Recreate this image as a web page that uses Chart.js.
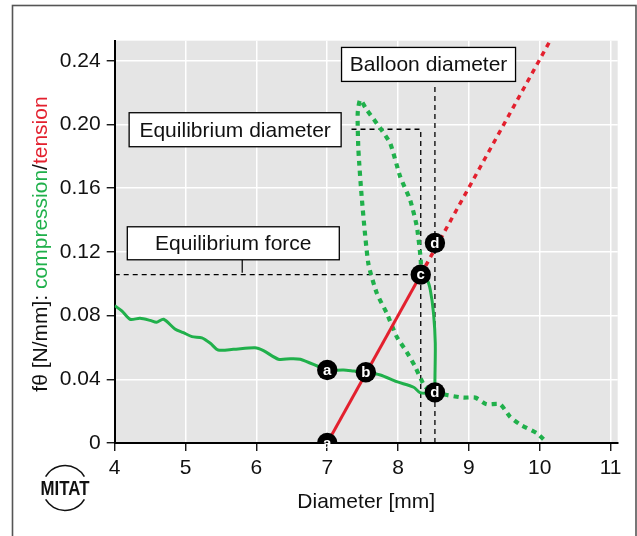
<!DOCTYPE html>
<html>
<head>
<meta charset="utf-8">
<script src="https://cdn.jsdelivr.net/npm/chart.js@4.4.1/dist/chart.umd.min.js"></script>
<style>
html,body{margin:0;padding:0;background:#fff;}
canvas{display:block;}
</style>
</head>
<body>
<canvas id="c" width="637" height="536"></canvas>
<script>
// ---- data ----
const xTicks = [4, 5, 6, 7, 8, 9, 10, 11];
const xTickLabels = ['4', '5', '6', '7', '8', '9', '10', '11'];
const yTicks = [0, 0.04, 0.08, 0.12, 0.16, 0.20, 0.24];
const yTickLabels = ['0', '0.04', '0.08', '0.12', '0.16', '0.20', '0.24'];

// solid green (measured compression force)
const greenSolidX = [4.00,4.10,4.216,4.357,4.50,4.59,4.69,4.85,4.97,5.09,5.23,5.35,5.46,5.675,5.98,6.10,6.31,6.48,6.62,6.90,7.00,7.23,7.37,7.545,7.75,7.98,8.22,8.31,8.41,8.52,8.52,8.525,8.50,8.455,8.41,8.32];
const greenSolidY = [0.0862,0.0830,0.0777,0.0783,0.0770,0.0758,0.0777,0.0716,0.0693,0.0668,0.0660,0.0626,0.0584,0.0588,0.0598,0.0580,0.0526,0.0529,0.0526,0.0475,0.0458,0.0458,0.0452,0.0444,0.0427,0.0385,0.0350,0.0316,0.0312,0.0318,0.0385,0.0626,0.0815,0.0961,0.1024,0.1057];
// dotted green
const greenDotX = [8.32,8.32,8.265,8.17,8.03,7.89,7.75,7.56,7.465,7.43,7.44,7.49,7.58,7.70,7.84,7.98,8.12,8.24,8.38,8.52,8.69,8.92,9.09,9.25,9.44,9.58,9.72,9.96,10.10];
const greenDotY = [0.1057,0.1149,0.1358,0.1526,0.1672,0.188,0.1976,0.209,0.2154,0.207,0.184,0.1526,0.1128,0.094,0.0815,0.0668,0.0573,0.048,0.0354,0.0318,0.0301,0.0285,0.0285,0.0243,0.0243,0.0165,0.0117,0.0061,0.0002];
// red (tension)
const redSolidX = [7.00, 8.32];
const redSolidY = [0.0, 0.1057];
const redDotX = [8.32, 10.146];
const redDotY = [0.1057, 0.2526];

// reference values
const eqForce = 0.1057;
const eqDiameter = 8.32;
const eqDiameterTop = 0.197;
const eqDiameterLeft = 7.30;
const balloonDiameter = 8.52;
const balloonTop = 0.2242;

// labelled markers
const markerX = [7.00, 7.00, 7.545, 8.32, 8.52, 8.52];
const markerY = [0.0, 0.0458, 0.0444, 0.1057, 0.1256, 0.0318];
const markerLabels = ['a', 'a', 'b', 'c', 'd', 'd'];

// annotation boxes (centre in data coords)
const boxTexts = ['Balloon diameter', 'Equilibrium diameter', 'Equilibrium force'];
const boxCx = [8.43, 5.70, 5.674];
const boxCy = [0.2377, 0.1967, 0.1254];
const boxW = [174, 212, 212];
const boxH = [34, 34, 33];

const GREEN = '#20b04b';
const RED = '#e3202e';
const FONT = '"Liberation Sans", Arial, Helvetica, sans-serif';

const zip = (xs, ys) => xs.map((x, i) => ({x, y: ys[i]}));

const bgPlugin = {
  id: 'bg',
  beforeDraw(chart) {
    const ctx = chart.ctx, a = chart.chartArea;
    ctx.save();
    ctx.fillStyle = '#fff';
    ctx.fillRect(0, 0, chart.width, chart.height);
    ctx.fillStyle = '#e5e5e5';
    ctx.fillRect(a.left, a.top, a.right - a.left, a.bottom - a.top);
    ctx.strokeStyle = '#555';
    ctx.lineWidth = 1.6;
    ctx.strokeRect(12.5, 5.5, 623.5, 600);
    ctx.restore();
  }
};

const overlayPlugin = {
  id: 'overlay',
  afterDatasetsDraw(chart) {
    const ctx = chart.ctx, xs = chart.scales.x, ys = chart.scales.y;
    ctx.save();
    // marker letters
    const meta = chart.getDatasetMeta(0);
    ctx.fillStyle = '#fff';
    ctx.font = 'bold 15px ' + FONT;
    ctx.textAlign = 'center';
    ctx.textBaseline = 'middle';
    meta.data.forEach((p, i) => {
      ctx.fillText(markerLabels[i], p.x, p.y + 0.5);
    });
    // connector tick from equilibrium force box to dashed line
    ctx.strokeStyle = '#000';
    ctx.lineWidth = 1.2;
    ctx.beginPath();
    const tx = xs.getPixelForValue(5.80);
    ctx.moveTo(tx, ys.getPixelForValue(boxCy[2]) + boxH[2] / 2);
    ctx.lineTo(tx, ys.getPixelForValue(eqForce) - 2);
    ctx.stroke();
    // boxes
    ctx.font = '21px ' + FONT;
    for (let i = 0; i < boxTexts.length; i++) {
      const cx = xs.getPixelForValue(boxCx[i]);
      const cy = ys.getPixelForValue(boxCy[i]);
      ctx.fillStyle = '#fff';
      ctx.fillRect(cx - boxW[i] / 2, cy - boxH[i] / 2, boxW[i], boxH[i]);
      ctx.strokeStyle = '#000';
      ctx.lineWidth = 1.3;
      ctx.strokeRect(cx - boxW[i] / 2, cy - boxH[i] / 2, boxW[i], boxH[i]);
      ctx.fillStyle = '#111';
      ctx.fillText(boxTexts[i], cx, cy + 1);
    }
    ctx.restore();
  },
  afterDraw(chart) {
    const ctx = chart.ctx, a = chart.chartArea;
    ctx.save();
    // x title
    ctx.font = '21px ' + FONT;
    ctx.fillStyle = '#111';
    ctx.textAlign = 'center';
    ctx.textBaseline = 'alphabetic';
    ctx.fillText('Diameter [mm]', (a.left + a.right) / 2, 508);
    // y title (multicolour)
    const parts = [['fθ [N/mm]: ', '#111'], ['compression', GREEN], ['/', '#111'], ['tension', RED]];
    const total = parts.reduce((s, p) => s + ctx.measureText(p[0]).width, 0);
    ctx.translate(47, 244);
    ctx.rotate(-Math.PI / 2);
    ctx.textAlign = 'left';
    let x = -total / 2;
    parts.forEach(p => {
      ctx.fillStyle = p[1];
      ctx.fillText(p[0], x, 0);
      x += ctx.measureText(p[0]).width;
    });
    ctx.restore();
    // MITAT logo
    ctx.save();
    ctx.strokeStyle = '#111';
    ctx.lineWidth = 1.6;
    const lx = 65, ly = 488, r = 22.5;
    ctx.beginPath();
    ctx.arc(lx, ly, r, Math.PI * 1.17, Math.PI * 1.83);
    ctx.stroke();
    ctx.beginPath();
    ctx.arc(lx, ly, r, Math.PI * 0.17, Math.PI * 0.83);
    ctx.stroke();
    ctx.translate(lx, ly);
    ctx.scale(0.8, 1);
    ctx.font = 'bold 21px ' + FONT;
    ctx.fillStyle = '#111';
    ctx.textAlign = 'center';
    ctx.textBaseline = 'middle';
    ctx.fillText('MITAT', 0, 1);
    ctx.restore();
  }
};

const dashedLines = [
  zip([4, eqDiameter], [eqForce, eqForce]),
  zip([eqDiameter, eqDiameter, eqDiameterLeft], [0, eqDiameterTop, eqDiameterTop]),
  zip([balloonDiameter, balloonDiameter], [0, balloonTop])
];

const datasets = [
  {data: zip(markerX, markerY), showLine: false, pointRadius: 10.2, pointBackgroundColor: '#000', pointBorderColor: '#000', pointBorderWidth: 0},
  {data: zip(redSolidX, redSolidY), showLine: true, borderColor: RED, borderWidth: 3, pointRadius: 0},
  {data: zip(redDotX, redDotY), showLine: true, borderColor: RED, borderWidth: 3.5, borderDash: [5, 5], pointRadius: 0},
  {data: zip(greenSolidX, greenSolidY), showLine: true, borderColor: GREEN, borderWidth: 3, pointRadius: 0, tension: 0.25},
  {data: zip(greenDotX, greenDotY), showLine: true, borderColor: GREEN, borderWidth: 4.2, borderDash: [5, 5], pointRadius: 0, tension: 0.2},
].concat(dashedLines.map(d => ({data: d, showLine: true, borderColor: '#000', borderWidth: 1.3, borderDash: [5, 4], pointRadius: 0})));

new Chart(document.getElementById('c'), {
  type: 'scatter',
  data: {datasets},
  options: {
    responsive: false,
    devicePixelRatio: 1,
    animation: false,
    events: [],
    layout: {padding: {left: 0, right: 19.3, top: 40.7, bottom: 0}},
    plugins: {legend: {display: false}, tooltip: {enabled: false}, title: {display: false}},
    scales: {
      x: {
        type: 'linear', min: 4, max: 11.1,
        afterBuildTicks: s => { s.ticks = xTicks.map(v => ({value: v})); },
        afterFit: s => { s.height = 93; },
        ticks: {
          callback: (v) => xTickLabels[xTicks.indexOf(v)],
          font: {size: 21, family: FONT}, color: '#111', padding: 5, maxRotation: 0, autoSkip: false
        },
        grid: {color: '#fff', lineWidth: 1.5, tickColor: '#000', tickLength: 8, tickWidth: 1.3},
        border: {color: '#000', width: 2}
      },
      y: {
        type: 'linear', min: 0, max: 0.2526,
        afterBuildTicks: s => { s.ticks = yTicks.map(v => ({value: v})); },
        afterFit: s => { s.width = 114.7; },
        ticks: {
          callback: (v) => yTickLabels[yTicks.findIndex(t => Math.abs(t - v) < 1e-9)],
          font: {size: 21, family: FONT}, color: '#111', padding: 6, autoSkip: false
        },
        grid: {color: '#fff', lineWidth: 1.5, tickColor: '#000', tickLength: 8, tickWidth: 1.3},
        border: {color: '#000', width: 2}
      }
    }
  },
  plugins: [bgPlugin, overlayPlugin]
});
</script>
</body>
</html>
